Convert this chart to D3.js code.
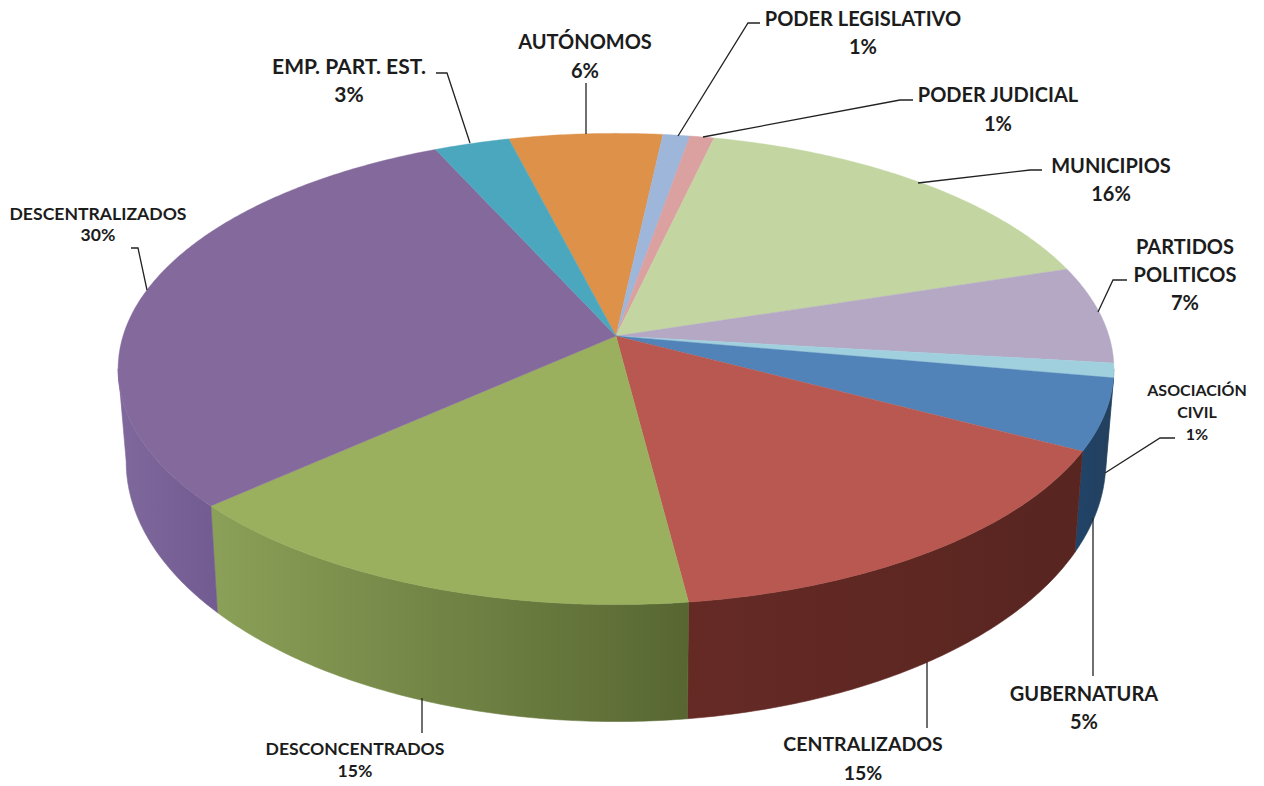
<!DOCTYPE html>
<html>
<head>
<meta charset="utf-8" />
<title>Pie 3D</title>
<style type="text/css">
html, body { margin: 0; background: #fff; }
svg { display: block; }
text { font-family: Lato, "Open Sans", sans-serif; font-weight: 700; fill: #1c1c1c; text-anchor: middle; }
.leader { fill: none; stroke: #222; stroke-width: 1.3px; }
</style>
<script src="https://cdn.jsdelivr.net/npm/d3@7"></script>
</head>
<body>
<svg width="1264" height="786"></svg>
<script type="text/javascript">

// clockwise, starting from the orange slice
var categories = ["AUTÓNOMOS", "PODER LEGISLATIVO", "PODER JUDICIAL", "MUNICIPIOS", "PARTIDOS POLITICOS",
                  "ASOCIACIÓN CIVIL", "GUBERNATURA", "CENTRALIZADOS", "DESCONCENTRADOS", "DESCENTRALIZADOS", "EMP. PART. EST."];
// the shares as measured from the slice edges; the printed labels are rounded
var values = [5.7, 1, 0.9, 16.5, 6.7, 1, 4.9, 15.25, 15.4, 29.85, 2.8];
var percentLabels = ["6%", "1%", "1%", "16%", "7%", "1%", "5%", "15%", "15%", "30%", "3%"];
var topColors = ["#dd9149", "#9db6d9", "#dba0a0", "#c3d5a1", "#b4a8c4", "#a0d0de", "#5183b8", "#b85851", "#9bb05e", "#846a9c", "#4ba7be"];
// wall colours, right end and left end of each slice
var wallStart = ["#a86d36", "#76899f", "#a57878", "#929f79", "#877e93", "#789ca6", "#24405f", "#582520", "#586732", "#715b90", "#38808f"];
var wallEnd = ["#a86d36", "#76899f", "#a57878", "#929f79", "#877e93", "#789ca6", "#1f4469", "#662a25", "#8a9f57", "#7d679b", "#38808f"];

var svg = d3.select("svg");
var defs = svg.append("defs");

// pie plane to screen, perspective tilt
var cx = 616, k = 0.14;
function topPoint(a) {
  var u = Math.sin(a), v = -Math.cos(a), w = 1 - k * v;
  return [cx + 493 * u / w, 336 + 231 * v / w];
}
function bottomPoint(a) {
  var u = Math.sin(a), v = -Math.cos(a), w = 1 - k * v;
  return [cx + 485 * u / w, 425 + 255 * v / w];
}

var pie = d3.pie().sort(null).value(function(d) { return d; })
  .startAngle(-14.3 * Math.PI / 180).endAngle(345.7 * Math.PI / 180);
var arcs = pie(values);
var line = d3.line();
var color = d3.scaleOrdinal().domain(categories).range(topColors);

function rim(a0, a1, fn) {
  var n = Math.max(2, Math.ceil((a1 - a0) / 0.01));
  return d3.range(n + 1).map(function(i) { return fn(a0 + (a1 - a0) * i / n); });
}

// only the front of the rim, between the two silhouette points (v = k)
var frontFrom = 98 * Math.PI / 180, frontTo = 262 * Math.PI / 180;

arcs.forEach(function(d, i) {
  var a0 = Math.max(d.startAngle, frontFrom), a1 = Math.min(d.endAngle, frontTo);
  if (a1 <= a0) return;
  var grad = defs.append("linearGradient").attr("id", "wall" + i)
    .attr("gradientUnits", "userSpaceOnUse")
    .attr("x1", bottomPoint(a0)[0]).attr("y1", 0)
    .attr("x2", bottomPoint(a1)[0]).attr("y2", 0);
  grad.append("stop").attr("offset", 0).attr("stop-color", wallStart[i]);
  grad.append("stop").attr("offset", 1).attr("stop-color", wallEnd[i]);
  var pts = rim(a0, a1, topPoint).concat(rim(a0, a1, bottomPoint).reverse());
  svg.append("path").attr("d", line(pts) + "Z")
    .attr("fill", "url(#wall" + i + ")")
    .attr("stroke", "url(#wall" + i + ")")
    .attr("stroke-width", 0.6);
});

svg.selectAll(".slice").data(arcs).enter().append("path")
  .attr("class", "slice")
  .attr("d", function(d) {
    return line([[cx, 336]].concat(rim(d.startAngle, d.endAngle, topPoint))) + "Z";
  })
  .attr("fill", function(d, i) { return color(categories[i]); })
  .attr("stroke", function(d, i) { return color(categories[i]); })
  .attr("stroke-width", 0.4);

// label layout, same order as categories
var labelLines = [["AUTÓNOMOS"], ["PODER LEGISLATIVO"], ["PODER JUDICIAL"], ["MUNICIPIOS"], ["PARTIDOS", "POLITICOS"],
                  ["ASOCIACIÓN", "CIVIL"], ["GUBERNATURA"], ["CENTRALIZADOS"], ["DESCONCENTRADOS"], ["DESCENTRALIZADOS"], ["EMP. PART. EST."]];
var labelX = [585, 863, 998, 1111, 1185, 1197, 1084, 863, 355, 98, 349];
var labelY = [49, 26, 102, 173, 254, 396, 701, 751, 755, 220, 74];
var labelGap = [28.5, 28, 28.5, 28, 28, 22, 28, 29, 22, 21, 28];
var labelSize = [20, 20, 20, 20, 20, 16, 20, 19.5, 17.6, 17.6, 21];
var leaders = [
  [[586, 83], [586, 134]],
  [[760, 23], [748, 23], [678, 136]],
  [[913, 100], [900, 100], [703, 137]],
  [[1042, 170], [1030, 170], [918, 183]],
  [[1127, 280], [1113, 280], [1098, 312]],
  [[1175, 438], [1160, 438], [1105, 473]],
  [[1093, 518], [1093, 676]],
  [[927, 662], [927, 728]],
  [[422, 698], [422, 733]],
  [[131, 248], [138, 248], [147, 290]],
  [[436, 73], [447, 73], [470, 143]]
];

leaders.forEach(function(p) {
  svg.append("path").attr("class", "leader").attr("d", line(p));
});

categories.forEach(function(c, i) {
  var t = svg.append("text").attr("font-size", labelSize[i]);
  labelLines[i].concat([percentLabels[i]]).forEach(function(s, j) {
    t.append("tspan").attr("x", labelX[i]).attr("y", labelY[i] + j * labelGap[i]).text(s);
  });
});

</script>
</body>
</html>
